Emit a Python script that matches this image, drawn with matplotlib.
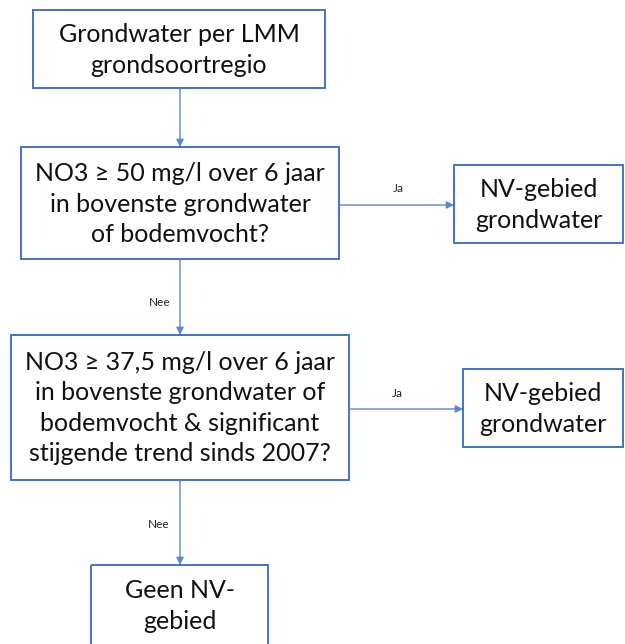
import matplotlib
matplotlib.use("Agg")
import matplotlib.pyplot as plt
from matplotlib.patches import Rectangle, FancyArrowPatch

# Flowchart content
box_texts = [
    "Grondwater per LMM\ngrondsoortregio",
    "NO3 \u2265 50 mg/l over 6 jaar\nin bovenste grondwater\nof bodemvocht?",
    "NV-gebied\ngrondwater",
    "NO3 \u2265 37,5 mg/l over 6 jaar\nin bovenste grondwater of\nbodemvocht & significant\nstijgende trend sinds 2007?",
    "NV-gebied\ngrondwater",
    "Geen NV-\ngebied",
]
edge_labels = ["Nee", "Ja", "Nee", "Ja"]

# layout (pixel coords: x0, y0, x1, y1)
boxes = [
    (33, 10, 325, 88),
    (21, 147, 339, 259),
    (454, 165, 623, 243),
    (11, 335, 349, 480),
    (463, 369, 623, 447),
    (91, 565, 268, 660),
]
text_centers = [(179, 50), (180, 204), (539, 205), (180, 408), (543, 409), (180, 606)]

W, H = 625, 644
fig = plt.figure(figsize=(W / 100, H / 100), dpi=100)
ax = fig.add_axes([0, 0, 1, 1])
ax.set_xlim(0, W)
ax.set_ylim(H, 0)
ax.axis("off")

blue = "#4472C4"
arrow_c = "#5B87D0"
font = "Lato"

for (x0, y0, x1, y1), txt, (cx, cy) in zip(boxes, box_texts, text_centers):
    ax.add_patch(Rectangle((x0, y0), x1 - x0, y1 - y0, fill=False,
                           edgecolor=blue, linewidth=1.4))
    ax.text(cx, cy, txt, ha="center", va="center", fontsize=18,
            family=font, color="#111111", linespacing=1.38)

arrows = [
    ((180, 88), (180, 147)),
    ((180, 259), (180, 335)),
    ((339, 205), (454, 205)),
    ((180, 480), (180, 565)),
    ((349, 409), (463, 409)),
]
label_pos = {1: (160, 302), 2: (398, 188), 3: (159, 525), 4: (397, 393)}
label_text = {1: edge_labels[0], 2: edge_labels[1], 3: edge_labels[2], 4: edge_labels[3]}

for i, (p0, p1) in enumerate(arrows):
    ax.add_patch(FancyArrowPatch(p0, p1, arrowstyle="-|>", mutation_scale=11,
                                 color=arrow_c, linewidth=1.0,
                                 shrinkA=0, shrinkB=0))
    if i in label_pos:
        lx, ly = label_pos[i]
        ax.text(lx, ly, label_text[i], ha="center", va="center",
                fontsize=8.5, family=font, color="#222222")

fig.savefig("out.png", dpi=100)
